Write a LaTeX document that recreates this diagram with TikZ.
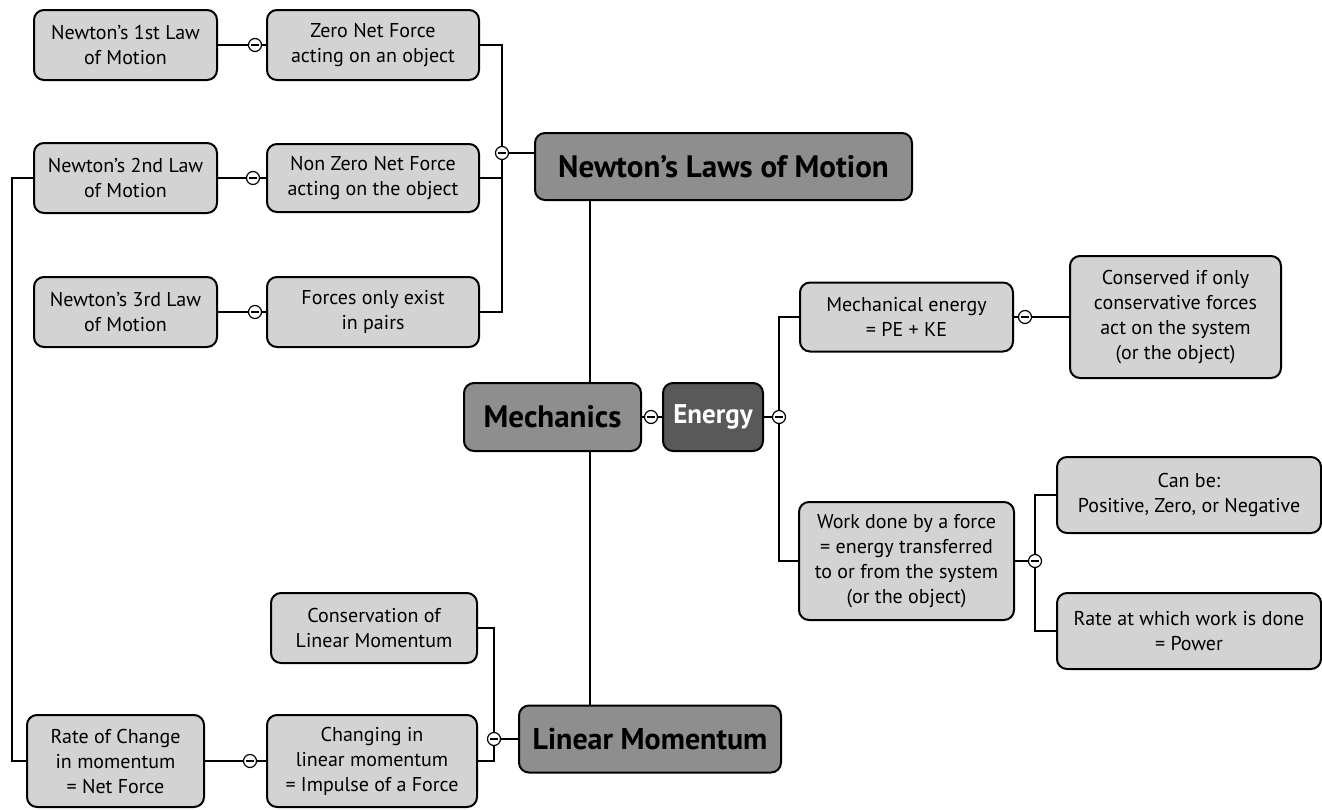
\documentclass[tikz,border=0pt]{standalone}
\usepackage{fontspec}
\setmainfont{PT Sans}
\usetikzlibrary{backgrounds}
\definecolor{leafgray}{HTML}{D3D3D3}
\definecolor{topicgray}{HTML}{8E8E8E}
\definecolor{energygray}{HTML}{595959}

\begin{document}
\begin{tikzpicture}[x=1pt,y=-1pt,
    leaf/.style={draw,line width=2pt,rounded corners=10pt,fill=leafgray,align=center,inner sep=0pt,
      font=\fontsize{20}{25}\selectfont},
    topic/.style={leaf,fill=topicgray,font=\fontsize{31}{34}\selectfont\bfseries},
    fold/.style={circle,draw,fill=white,line width=1.2pt,minimum size=13pt,inner sep=0pt,
      path picture={\draw[line width=1.2pt] ([xshift=-4pt]path picture bounding box.center)
        -- ([xshift=4pt]path picture bounding box.center);}},
    wire/.style={line width=2.5pt}]
  \useasboundingbox (0,0) rectangle (1322,809);

  \node[leaf,minimum width=183,minimum height=70] (n1) at (125.5,45) {Newton’s 1st Law\\of Motion};
  \node[leaf,minimum width=212,minimum height=70] (z1) at (373,45) {Zero Net Force\\acting on an object};
  \node[leaf,minimum width=183,minimum height=70] (n2) at (125.5,178) {Newton’s 2nd Law\\of Motion};
  \node[leaf,minimum width=212,minimum height=68] (z2) at (373,178) {Non Zero Net Force\\acting on the object};
  \node[leaf,minimum width=183,minimum height=70] (n3) at (125.5,312) {Newton’s 3rd Law\\of Motion};
  \node[leaf,minimum width=212,minimum height=70] (z3) at (373,312) {Forces only exist\\in pairs};
  \node[topic,minimum width=377,minimum height=67] (nl) at (723.5,166.5) {Newton’s Laws of Motion};

  \node[topic,minimum width=177,minimum height=68] (mech) at (552.5,417) {Mechanics};
  \node[leaf,minimum width=100,minimum height=68,fill=energygray,text=white,font=\fontsize{27}{30}\selectfont\bfseries] (energy) at (713,417) {Energy};

  \node[leaf,minimum width=213,minimum height=69] (me) at (906.5,317) {Mechanical energy\\= PE + KE};
  \node[leaf,minimum width=211,minimum height=122] (cons) at (1175.5,317) {Conserved if only\\conservative forces\\act on the system\\(or the object)};
  \node[leaf,minimum width=215,minimum height=118] (work) at (906.5,561) {Work done by a force\\= energy transferred\\to or from the system\\(or the object)};
  \node[leaf,minimum width=264,minimum height=76] (canbe) at (1189,495) {Can be:\\Positive, Zero, or Negative};
  \node[leaf,minimum width=264,minimum height=76] (rate) at (1189,631) {Rate at which work is done\\= Power};

  \node[leaf,minimum width=206,minimum height=70] (clm) at (374,628) {Conservation of\\Linear Momentum};
  \node[topic,minimum width=262,minimum height=67,font=\fontsize{30}{34}\selectfont\bfseries] (lm) at (650,739) {Linear Momentum};
  \node[leaf,minimum width=210,minimum height=92] (chg) at (372,761) {Changing in\\linear momentum\\= Impulse of a Force};
  \node[leaf,minimum width=177,minimum height=92] (roc) at (115.5,761) {Rate of Change\\in momentum\\= Net Force};

  \node[fold] (f1) at (255,45) {};
  \node[fold] (f2) at (253,178) {};
  \node[fold] (f3) at (255,312) {};
  \node[fold] (fnl) at (502,153) {};
  \node[fold] (fmech) at (651,417) {};
  \node[fold] (fen) at (779,417) {};
  \node[fold] (fme) at (1025,317) {};
  \node[fold] (fwork) at (1035,561) {};
  \node[fold] (flm) at (494,739) {};
  \node[fold] (froc) at (250,761) {};
  \coordinate (lbus) at (12,0);
  \coordinate (trunk) at (590,0);

  \begin{scope}[on background layer]
    \draw[wire] (n1.east) -- (f1) -- (z1.west);
    \draw[wire] (n2.east) -- (f2) -- (z2.west);
    \draw[wire] (n3.east) -- (f3) -- (z3.west);
    \draw[wire] (z1.east) -| (fnl) |- (z3.east);
    \draw[wire] (z2.east) -- (z2.east -| fnl);
    \draw[wire] (fnl) -- (fnl -| nl.west);
    \draw[wire] (n2.west) -- (n2.west -| lbus) |- (roc.west);
    \draw[wire] (nl.south -| trunk) -- (lm.north -| trunk);
    \draw[wire] (mech.east) -- (fmech) -- (energy.west);
    \draw[wire] (energy.east) -- (fen);
    \draw[wire] (me.west) -| (fen) |- (work.west);
    \draw[wire] (me.east) -- (fme) -- (cons.west);
    \draw[wire] (work.east) -- (fwork);
    \draw[wire] (canbe.west) -| (fwork) |- (rate.west);
    \draw[wire] (chg.east) -| (flm) |- (clm.east);
    \draw[wire] (flm) -- (lm.west);
    \draw[wire] (roc.east) -- (froc) -- (chg.west);
  \end{scope}
\end{tikzpicture}
\end{document}
